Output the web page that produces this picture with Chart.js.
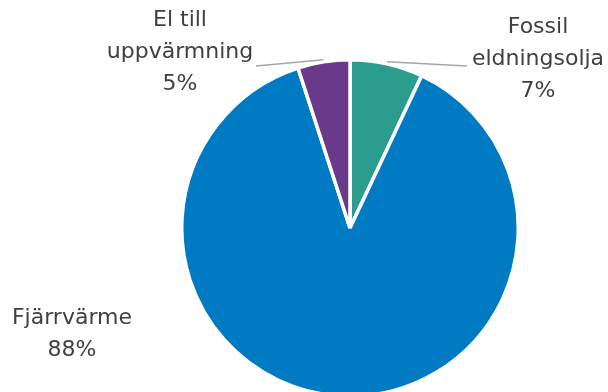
<!DOCTYPE html>
<html>
<head>
<meta charset="utf-8">
<script src="https://cdn.jsdelivr.net/npm/chart.js@4"></script>
<style>
    html, body { margin: 0; padding: 0; background: #fff; overflow: hidden; }
    #wrap { width: 608px; height: 400px; position: relative; }
</style>
</head>
<body>
<div id="wrap"><canvas id="pieChart"></canvas></div>
<script>
const categories = ['Fossil eldningsolja', 'Fjärrvärme', 'El till uppvärmning'];
const labelLines = [['Fossil', 'eldningsolja', '7%'], ['Fjärrvärme', '88%'], ['El till', 'uppvärmning', '5%']];
const shares = [7, 88, 5];
const colors = ['#2a9d8f', '#007ac2', '#6a3a8a'];

// label text centres (first line) and where each leader line ends
const labelPos = [
    { x: 538, y: 27, lineTo: { x: 467, y: 66 } },
    { x: 72, y: 318, lineTo: null },
    { x: 180, y: 20, lineTo: { x: 256, y: 66 } }
];

const outsideLabels = {
    id: 'outsideLabels',
    afterDraw(chart) {
        const ctx = chart.ctx;
        const arcs = chart.getDatasetMeta(0).data;
        ctx.save();
        arcs.forEach((arc, i) => {
            const pos = labelPos[i];
            if (pos.lineTo) {
                const mid = (arc.startAngle + arc.endAngle) / 2;
                const r = arc.outerRadius + 2;
                ctx.beginPath();
                ctx.moveTo(arc.x + Math.cos(mid) * r, arc.y + Math.sin(mid) * r);
                ctx.lineTo(pos.lineTo.x, pos.lineTo.y);
                ctx.strokeStyle = '#a6a6a6';
                ctx.lineWidth = 1.5;
                ctx.stroke();
            }
            ctx.fillStyle = '#404040';
            ctx.font = '22px "DejaVu Sans"';
            ctx.textAlign = 'center';
            ctx.textBaseline = 'middle';
            labelLines[i].forEach((t, k) => {
                ctx.fillText(t, pos.x, pos.y + k * 32);
            });
        });
        ctx.restore();
    }
};

new Chart(document.getElementById('pieChart'), {
    type: 'pie',
    data: {
        labels: categories,
        datasets: [{
            data: shares,
            backgroundColor: colors,
            borderColor: '#ffffff',
            borderWidth: 3.5
        }]
    },
    options: {
        responsive: true,
        maintainAspectRatio: false,
        animation: false,
        layout: { padding: { left: 180, right: 88, top: 58, bottom: 2 } },
        plugins: {
            legend: { display: false },
            tooltip: { enabled: false }
        }
    },
    plugins: [outsideLabels]
});
</script>
</body>
</html>
